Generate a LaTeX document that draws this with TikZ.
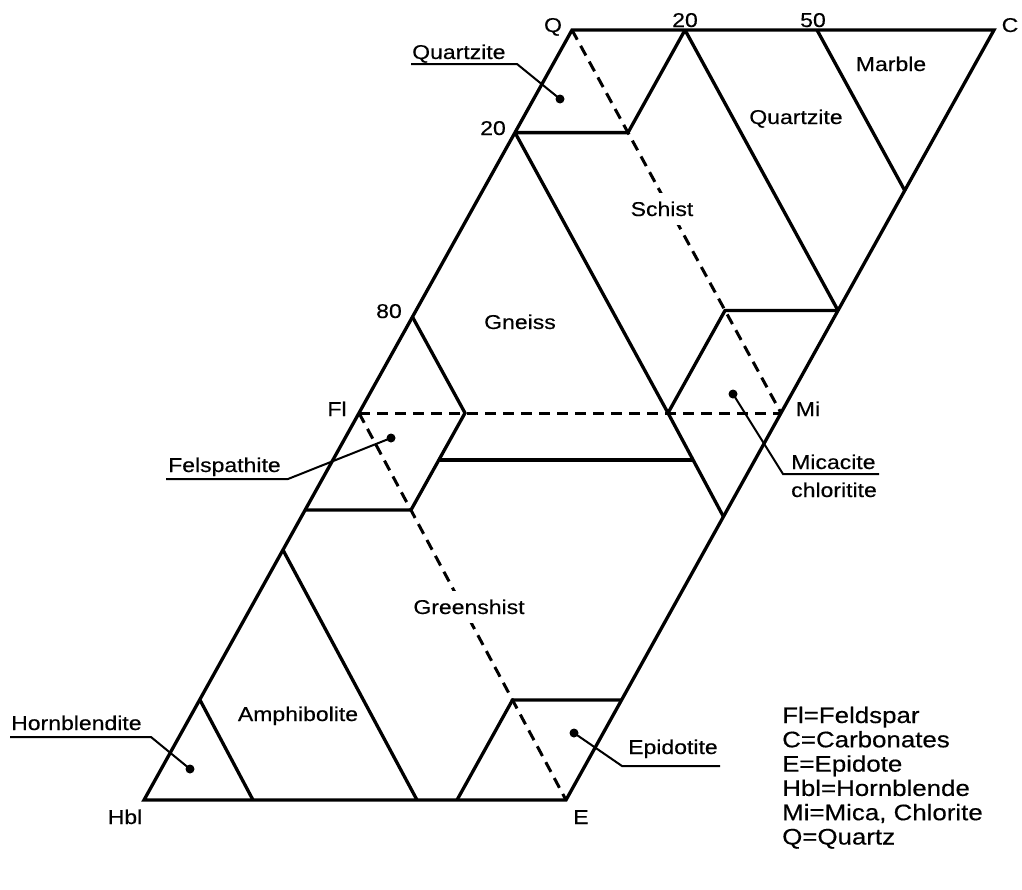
\documentclass[tikz,border=0pt]{standalone}
\usepackage{fontspec}
\setmainfont{Liberation Sans}[FakeStretch=1.15,FakeBold=0.4]
\begin{document}
\begin{tikzpicture}[x=1pt,y=-1pt,
  edge/.style={line width=3.3pt, line join=miter},
  dashline/.style={line width=3pt, dash pattern=on 11pt off 7pt},
  leader/.style={line width=2pt},
  lbl/.style={font=\fontsize{20}{24}\selectfont, inner sep=0pt},
  cut/.style={lbl, fill=white, inner xsep=3pt, inner ysep=9pt},
  legend/.style={font=\fontsize{22.5}{24}\selectfont, inner sep=0pt, anchor=base west},
  dotm/.style={circle, fill=black, inner sep=0pt, minimum size=9pt}]
\useasboundingbox (0,0) rectangle (1022,889);
% vertices
\coordinate (Q) at (572,30);
\coordinate (C) at (994,30);
\coordinate (Fl) at (359,413);
\coordinate (Mi) at (781,413);
\coordinate (Hbl) at (144,800);
\coordinate (E) at (566,800);
% internal points
\coordinate (T20) at (685,30);
\coordinate (T50) at (817,30);
\coordinate (R1) at (905,191);
\coordinate (R2) at (838,310.5);
\coordinate (K1) at (628,132.6);
\coordinate (L20) at (515,132.6);
\coordinate (K2) at (725,310.5);
\coordinate (M1) at (668,413);
\coordinate (M2) at (723.4,516.6);
\coordinate (N1) at (693,460);
\coordinate (P80) at (412.5,317);
\coordinate (F1) at (465,413);
\coordinate (F2) at (411,510);
\coordinate (L510) at (305,510);
\coordinate (N0) at (439,460);
\coordinate (A1) at (283,550);
\coordinate (A2) at (417,800);
\coordinate (B1) at (253,800);
\coordinate (B0) at (200,700);
\coordinate (G1) at (512.5,700);
\coordinate (G2) at (621.5,700);
\coordinate (G0) at (457,800);
% dashed tie lines
\draw[dashline] (Q) -- (Mi);
\draw[dashline] (Fl) -- (Mi);
\draw[dashline] (Fl) -- (E);
% solid field boundaries
\draw[edge] (Q) -- (C) -- (Mi) -- (E) -- (Hbl) -- (Fl) -- cycle;
\draw[edge] (T20) -- (R2);
\draw[edge] (T50) -- (R1);
\draw[edge] (T20) -- (K1) -- (L20);
\draw[edge] (L20) -- (M1) -- (M2);
\draw[edge] (R2) -- (K2) -- (M1);
\draw[edge] (P80) -- (F1) -- (F2) -- (L510);
\draw[edge] (N0) -- (N1);
\draw[edge] (A1) -- (A2);
\draw[edge] (B0) -- (B1);
\draw[edge] (G0) -- (G1) -- (G2);
% corner and scale labels
\node[lbl, anchor=base] (lQ) at (553,32) {Q};
\node[lbl, anchor=base] (lC) at (1010,32) {C};
\node[lbl, anchor=base] (lT20) at (685,27) {20};
\node[lbl, anchor=base] (lT50) at (813,27) {50};
\node[lbl, anchor=base] (lL20) at (493,135) {20};
\node[lbl, anchor=base] (l80) at (389,318) {80};
\node[lbl, anchor=base] (lFl) at (337,416) {Fl};
\node[lbl, anchor=base] (lMi) at (808,416) {Mi};
\node[lbl, anchor=base] (lHbl) at (125,824) {Hbl};
\node[lbl, anchor=base] (lE) at (581,824) {E};
% field names
\node[lbl, anchor=base] (marble) at (891,71) {Marble};
\node[lbl, anchor=base] (qtzR) at (796,124) {Quartzite};
\node[cut, anchor=base] (schist) at (662,216) {Schist};
\node[lbl, anchor=base] (gneiss) at (520,329) {Gneiss};
\node[cut, anchor=base] (green) at (469,614) {Greenshist};
\node[lbl, anchor=base] (amph) at (298,721) {Amphibolite};
% leader labels
\node[lbl, anchor=base west] (qtzL) at (412,59) {Quartzite};
\coordinate (qa) at (411,64);
\coordinate (qb) at (517,64);
\node[dotm] (dq) at (560,99) {};
\draw[leader] (qa) -- (qb) -- (dq.center);

\node[lbl, anchor=base west] (fels) at (168,472) {Felspathite};
\coordinate (fa) at (166,479);
\coordinate (fb) at (288,479);
\node[dotm] (df) at (391,438) {};
\draw[leader] (fa) -- (fb) -- (df.center);

\node[lbl, anchor=base west] (mica) at (791,469) {Micacite};
\node[lbl, anchor=base west] (chlor) at (791,497) {chloritite};
\coordinate (ma) at (783,474);
\coordinate (mb) at (879,474);
\node[dotm] (dm) at (733,394) {};
\draw[leader] (mb) -- (ma) -- (dm.center);

\node[lbl, anchor=base west] (hbd) at (11,730) {Hornblendite};
\coordinate (ha) at (10,737);
\coordinate (hb) at (151,737);
\node[dotm] (dh) at (190,769) {};
\draw[leader] (ha) -- (hb) -- (dh.center);

\node[lbl, anchor=base west] (epi) at (628,754) {Epidotite};
\coordinate (ea) at (622,766);
\coordinate (eb) at (720,766);
\node[dotm] (de) at (574,733) {};
\draw[leader] (eb) -- (ea) -- (de.center);
% legend
\node[legend] (k1) at (782,723) {Fl=Feldspar};
\node[legend] (k2) at (782,747.3) {C=Carbonates};
\node[legend] (k3) at (782,771.6) {E=Epidote};
\node[legend] (k4) at (782,795.9) {Hbl=Hornblende};
\node[legend] (k5) at (782,820.2) {Mi=Mica, Chlorite};
\node[legend] (k6) at (782,844.5) {Q=Quartz};
\end{tikzpicture}
\end{document}
